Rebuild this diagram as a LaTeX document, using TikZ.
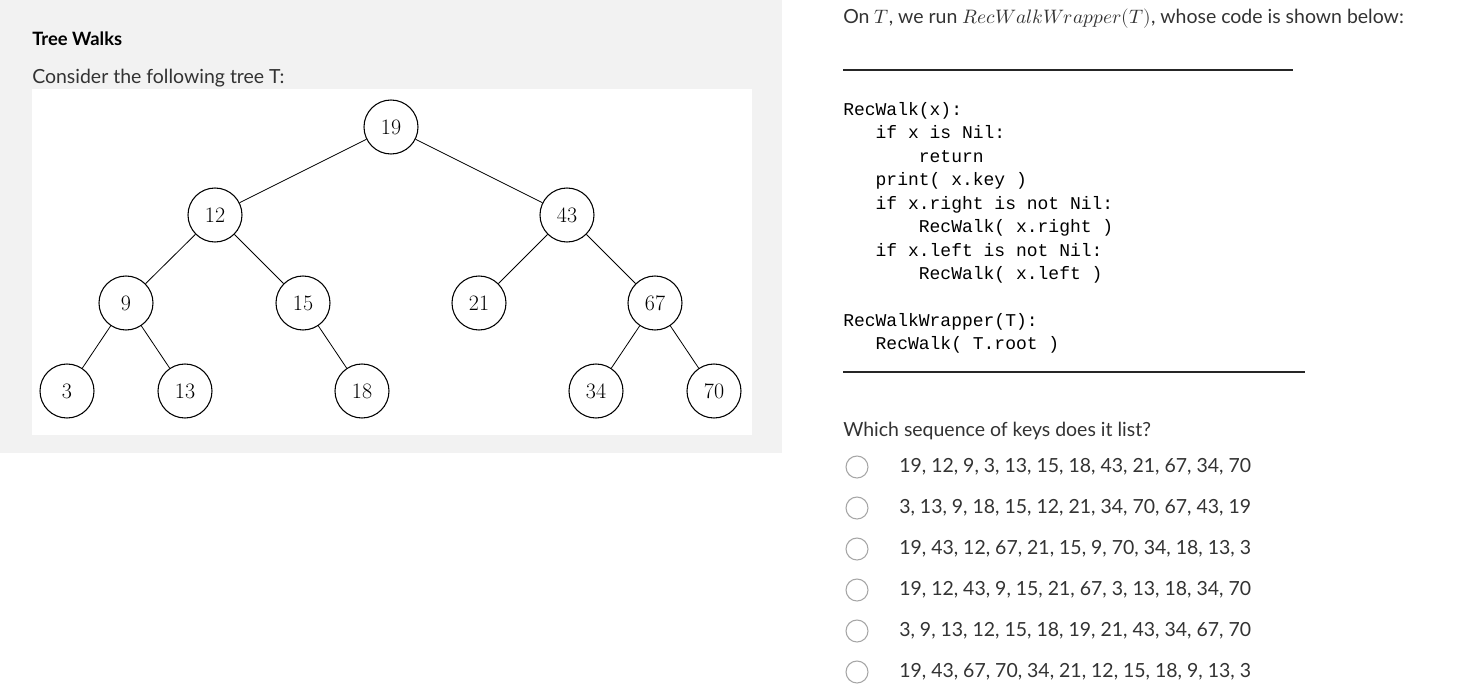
\documentclass[tikz,border=0pt]{standalone}
\usepackage{fontspec}
\setmainfont{Lato}
\setmonofont{Liberation Mono}
\usepackage{unicode-math}
\setmathfont{Latin Modern Math}
\newfontfamily\lmr{Latin Modern Roman}
\begin{document}
\begin{tikzpicture}[x=0.75pt,y=-0.75pt,
  tn/.style={circle,draw,line width=0.8pt,minimum size=40.5pt,inner sep=0pt,font=\lmr\fontsize{16.5}{16.5}\selectfont},
  txt/.style={anchor=west,inner sep=0pt,text=black!80,font=\fontsize{14.6}{16}\selectfont},
  code/.style={anchor=north west,inner sep=0pt,align=left,font=\ttfamily\fontsize{13.5}{17.6}\selectfont},
  radio/.style={circle,draw=black!35,fill=white,line width=0.8pt,minimum size=16.5pt,inner sep=0pt},
  edge/.style={line width=0.6pt}]
\useasboundingbox (0,0) rectangle (1465,700);
\fill[white] (0,0) rectangle (1465,700);
\fill[black!5] (0,0) rectangle (782,453);
\fill[white] (32,89) rectangle (752,435);
\node[txt,text=black,font=\bfseries\fontsize{13.8}{16}\selectfont] (title) at (32,39) {Tree Walks};
\node[txt] (cons) at (32,78) {Consider the following tree T:};
\node[tn] (n19) at (391,127) {19};
\node[tn] (n12) at (215,215) {12};
\node[tn] (n43) at (567,215) {43};
\node[tn] (n9) at (126,303) {9};
\node[tn] (n15) at (303,303) {15};
\node[tn] (n21) at (479,303) {21};
\node[tn] (n67) at (655,303) {67};
\node[tn] (n3) at (67,391) {3};
\node[tn] (n13) at (185,391) {13};
\node[tn] (n18) at (362,391) {18};
\node[tn] (n34) at (596,391) {34};
\node[tn] (n70) at (714,391) {70};
\foreach \a/\b in {n19/n12,n19/n43,n12/n9,n12/n15,n43/n21,n43/n67,n9/n3,n9/n13,n15/n18,n67/n34,n67/n70}
  \draw[edge] (\a) -- (\b);
\node[txt] (intro) at (843,19) {On $\mathsf{}\fontsize{17.5}{18}\selectfont T$, we run $\fontsize{17.5}{18}\selectfont RecWalkWrapper(T)$, whose code is shown below:};
\coordinate (u1a) at (843,70); \coordinate (u1b) at (1293,70);
\draw[line width=1pt,black!85] (u1a) -- (u1b);
\node[code] (cd) at (843,102) {RecWalk(x):\\
\ \ \ if x is Nil:\\
\ \ \ \ \ \ \ return\\
\ \ \ print( x.key )\\
\ \ \ if x.right is not Nil:\\
\ \ \ \ \ \ \ RecWalk( x.right )\\
\ \ \ if x.left is not Nil:\\
\ \ \ \ \ \ \ RecWalk( x.left )\\
\strut\\
RecWalkWrapper(T):\\
\ \ \ RecWalk( T.root )};
\coordinate (u2a) at (843,372); \coordinate (u2b) at (1305,372);
\draw[line width=1pt,black!85] (u2a) -- (u2b);
\node[txt] (q) at (843,431) {Which sequence of keys does it list?};
\foreach \i/\s in {0/{19, 12, 9, 3, 13, 15, 18, 43, 21, 67, 34, 70},
                   1/{3, 13, 9, 18, 15, 12, 21, 34, 70, 67, 43, 19},
                   2/{19, 43, 12, 67, 21, 15, 9, 70, 34, 18, 13, 3},
                   3/{19, 12, 43, 9, 15, 21, 67, 3, 13, 18, 34, 70},
                   4/{3, 9, 13, 12, 15, 18, 19, 21, 43, 34, 67, 70},
                   5/{19, 43, 67, 70, 34, 21, 12, 15, 18, 9, 13, 3}} {
  \node[radio] (r\i) at (857,467+41*\i) {};
  \node[txt] (o\i) at (899,467+41*\i) {\s};
}
\end{tikzpicture}
\end{document}
